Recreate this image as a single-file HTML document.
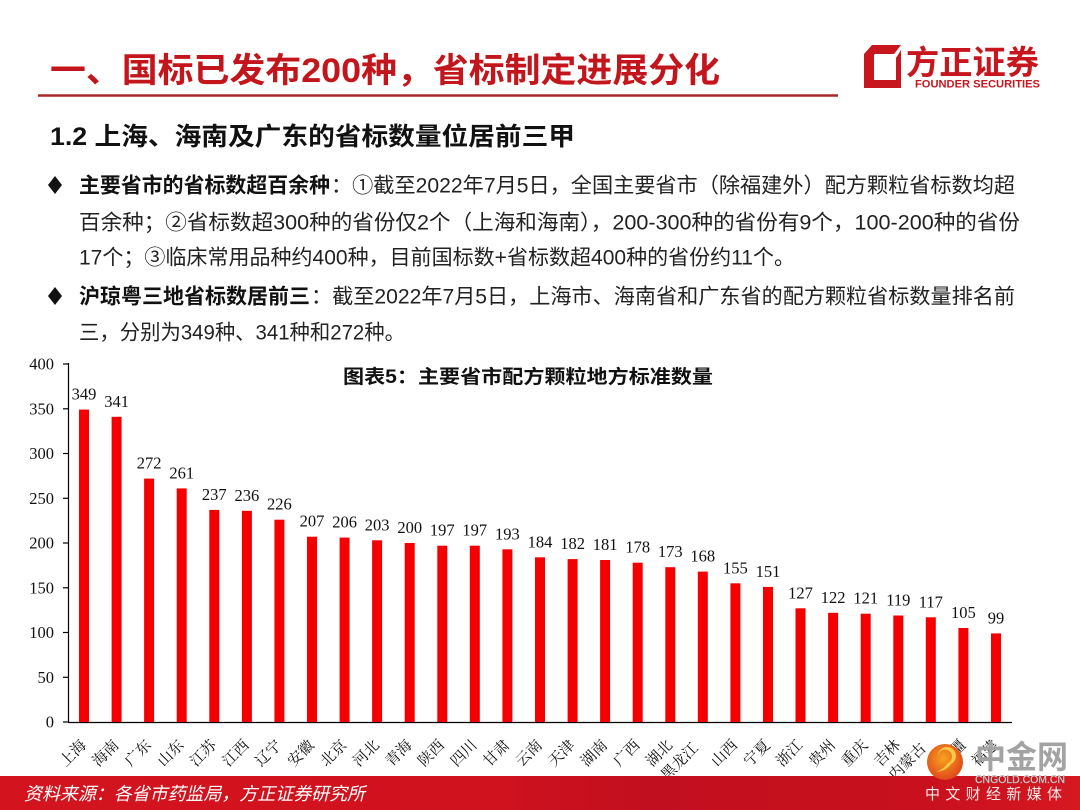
<!DOCTYPE html>
<html><head><meta charset="utf-8">
<style>
html,body{margin:0;padding:0;background:#fff;}
svg{display:block;}
.cjk{font-family:"Liberation Sans","Noto Sans CJK SC",sans-serif;}
.ser{font-family:"Liberation Serif","Noto Serif CJK SC",serif;}
</style></head>
<body>
<svg width="1080" height="810" viewBox="0 0 1080 810" xmlns="http://www.w3.org/2000/svg">
<defs>
<linearGradient id="foot" x1="0" y1="0" x2="1" y2="0">
<stop offset="0" stop-color="#d3141f"/>
<stop offset="0.45" stop-color="#d0121e"/>
<stop offset="0.6" stop-color="#c20f1f"/>
<stop offset="0.85" stop-color="#c8101e"/>
<stop offset="1" stop-color="#d61820"/>
</linearGradient>
<radialGradient id="wm" cx="0.45" cy="0.4" r="0.6">
<stop offset="0" stop-color="#f7a21f"/>
<stop offset="1" stop-color="#e0481a"/>
</radialGradient>
</defs>

<!-- Header -->
<text class="cjk" x="50" y="82" font-size="34" font-weight="bold" fill="#c3161c" textLength="670" lengthAdjust="spacingAndGlyphs">一、国标已发布200种，省标制定进展分化</text>
<line x1="38" y1="95.5" x2="838" y2="95.5" stroke="#a8282c" stroke-width="2.5"/>

<!-- Logo -->
<path d="M872 45 L901 45 L894 54 L875 54 L872 57 Z" fill="#c8161e"/>
<path d="M864 54 L874 54 L874 80 L896 80 L896 58 L901 50 L901 88 L864 88 Z" fill="#c8161e"/>
<path d="M864 54 L872 45 L872 57 L866 64 Z" fill="#c8161e"/>
<text class="cjk" x="906" y="74" font-size="33" font-weight="bold" fill="#c8161e" textLength="133" lengthAdjust="spacingAndGlyphs">方正证券</text>
<text x="915" y="87.5" font-family="Liberation Sans, sans-serif" font-size="11" font-weight="bold" fill="#c8161e" textLength="125" lengthAdjust="spacingAndGlyphs">FOUNDER SECURITIES</text>

<!-- Subtitle -->
<text class="cjk" x="50" y="145" font-size="25" font-weight="bold" fill="#111" textLength="525" lengthAdjust="spacingAndGlyphs">1.2 上海、海南及广东的省标数量位居前三甲</text>

<!-- Bullets -->
<path d="M55 176 L62 185 L55 194 L48 185 Z" fill="#111"/>
<text class="cjk" x="79" y="192.5" font-size="21" font-weight="bold" fill="#111" textLength="251" lengthAdjust="spacingAndGlyphs">主要省市的省标数超百余种</text>
<text class="cjk" x="331" y="192.5" font-size="21" fill="#222" textLength="684" lengthAdjust="spacingAndGlyphs">：①截至2022年7月5日，全国主要省市（除福建外）配方颗粒省标数均超</text>
<text class="cjk" x="79" y="229.5" font-size="21" fill="#222" textLength="941" lengthAdjust="spacingAndGlyphs">百余种；②省标数超300种的省份仅2个（上海和海南），200-300种的省份有9个，100-200种的省份</text>
<text class="cjk" x="79" y="264.5" font-size="21" fill="#222" textLength="716" lengthAdjust="spacingAndGlyphs">17个；③临床常用品种约400种，目前国标数+省标数超400种的省份约11个。</text>
<path d="M55 287 L62 296 L55 305 L48 296 Z" fill="#111"/>
<text class="cjk" x="79" y="303.5" font-size="21" font-weight="bold" fill="#111" textLength="231" lengthAdjust="spacingAndGlyphs">沪琼粤三地省标数居前三</text>
<text class="cjk" x="311" y="303.5" font-size="21" fill="#222" textLength="704" lengthAdjust="spacingAndGlyphs">：截至2022年7月5日，上海市、海南省和广东省的配方颗粒省标数量排名前</text>
<text class="cjk" x="79" y="339.5" font-size="21" fill="#222" textLength="326" lengthAdjust="spacingAndGlyphs">三，分别为349种、341种和272种。</text>

<!-- Chart title -->
<text class="cjk" x="343" y="383" font-size="19" font-weight="bold" fill="#111" textLength="370" lengthAdjust="spacingAndGlyphs">图表5：主要省市配方颗粒地方标准数量</text>

<!-- Axes -->
<g stroke="#000" stroke-width="1.2">
<line x1="68.5" y1="363" x2="68.5" y2="722.5"/>
<line x1="68" y1="722.5" x2="1012" y2="722.5"/>
<line x1="63" y1="364" x2="68.5" y2="364"/>
<line x1="63" y1="408.8" x2="68.5" y2="408.8"/>
<line x1="63" y1="453.5" x2="68.5" y2="453.5"/>
<line x1="63" y1="498.3" x2="68.5" y2="498.3"/>
<line x1="63" y1="543" x2="68.5" y2="543"/>
<line x1="63" y1="587.8" x2="68.5" y2="587.8"/>
<line x1="63" y1="632.5" x2="68.5" y2="632.5"/>
<line x1="63" y1="677.3" x2="68.5" y2="677.3"/>
<line x1="63" y1="722" x2="68.5" y2="722"/>
</g>
<g class="ser" font-size="16.5" fill="#111" text-anchor="end">
<text x="54" y="369.5">400</text>
<text x="54" y="414.3">350</text>
<text x="54" y="459">300</text>
<text x="54" y="503.8">250</text>
<text x="54" y="548.5">200</text>
<text x="54" y="593.3">150</text>
<text x="54" y="638">100</text>
<text x="54" y="682.8">50</text>
<text x="54" y="727.5">0</text>
</g>

<!-- Bars -->
<g fill="#f50000">
<rect x="79" y="409.6" width="10" height="312.4"/>
<rect x="111.6" y="416.8" width="10" height="305.2"/>
<rect x="144.1" y="478.6" width="10" height="243.4"/>
<rect x="176.7" y="488.4" width="10" height="233.6"/>
<rect x="209.3" y="509.9" width="10" height="212.1"/>
<rect x="241.9" y="510.8" width="10" height="211.2"/>
<rect x="274.4" y="519.7" width="10" height="202.3"/>
<rect x="307" y="536.7" width="10" height="185.3"/>
<rect x="339.6" y="537.6" width="10" height="184.4"/>
<rect x="372.1" y="540.3" width="10" height="181.7"/>
<rect x="404.7" y="543" width="10" height="179"/>
<rect x="437.3" y="545.7" width="10" height="176.3"/>
<rect x="469.8" y="545.7" width="10" height="176.3"/>
<rect x="502.4" y="549.3" width="10" height="172.7"/>
<rect x="535" y="557.3" width="10" height="164.7"/>
<rect x="567.6" y="559.1" width="10" height="162.9"/>
<rect x="600.1" y="560" width="10" height="162"/>
<rect x="632.7" y="562.7" width="10" height="159.3"/>
<rect x="665.3" y="567.2" width="10" height="154.8"/>
<rect x="697.8" y="571.6" width="10" height="150.4"/>
<rect x="730.4" y="583.3" width="10" height="138.7"/>
<rect x="763" y="586.9" width="10" height="135.1"/>
<rect x="795.5" y="608.3" width="10" height="113.7"/>
<rect x="828.1" y="612.8" width="10" height="109.2"/>
<rect x="860.7" y="613.7" width="10" height="108.3"/>
<rect x="893.3" y="615.5" width="10" height="106.5"/>
<rect x="925.8" y="617.3" width="10" height="104.7"/>
<rect x="958.4" y="628" width="10" height="94"/>
<rect x="991" y="633.4" width="10" height="88.6"/>
</g>

<!-- Value labels -->
<g class="ser" font-size="16.5" fill="#111" text-anchor="middle">
<text x="84" y="399.6">349</text>
<text x="116.6" y="406.8">341</text>
<text x="149.1" y="468.6">272</text>
<text x="181.7" y="478.4">261</text>
<text x="214.3" y="499.9">237</text>
<text x="246.9" y="500.8">236</text>
<text x="279.4" y="509.7">226</text>
<text x="312" y="526.7">207</text>
<text x="344.6" y="527.6">206</text>
<text x="377.1" y="530.3">203</text>
<text x="409.7" y="533">200</text>
<text x="442.3" y="535.7">197</text>
<text x="474.8" y="535.7">197</text>
<text x="507.4" y="539.3">193</text>
<text x="540" y="547.3">184</text>
<text x="572.6" y="549.1">182</text>
<text x="605.1" y="550">181</text>
<text x="637.7" y="552.7">178</text>
<text x="670.3" y="557.2">173</text>
<text x="702.8" y="561.6">168</text>
<text x="735.4" y="573.3">155</text>
<text x="768" y="576.9">151</text>
<text x="800.5" y="598.3">127</text>
<text x="833.1" y="602.8">122</text>
<text x="865.7" y="603.7">121</text>
<text x="898.3" y="605.5">119</text>
<text x="930.8" y="607.3">117</text>
<text x="963.4" y="618">105</text>
<text x="996" y="623.4">99</text>
</g>

<!-- Category labels -->
<g font-family="'Liberation Serif','Noto Serif CJK SC',serif" font-size="15" fill="#111" text-anchor="end">
<text transform="translate(87,746) rotate(-45)">上海</text>
<text transform="translate(119.6,746) rotate(-45)">海南</text>
<text transform="translate(152.1,746) rotate(-45)">广东</text>
<text transform="translate(184.7,746) rotate(-45)">山东</text>
<text transform="translate(217.3,746) rotate(-45)">江苏</text>
<text transform="translate(249.9,746) rotate(-45)">江西</text>
<text transform="translate(282.4,746) rotate(-45)">辽宁</text>
<text transform="translate(315,746) rotate(-45)">安徽</text>
<text transform="translate(347.6,746) rotate(-45)">北京</text>
<text transform="translate(380.1,746) rotate(-45)">河北</text>
<text transform="translate(412.7,746) rotate(-45)">青海</text>
<text transform="translate(445.3,746) rotate(-45)">陕西</text>
<text transform="translate(477.8,746) rotate(-45)">四川</text>
<text transform="translate(510.4,746) rotate(-45)">甘肃</text>
<text transform="translate(543,746) rotate(-45)">云南</text>
<text transform="translate(575.6,746) rotate(-45)">天津</text>
<text transform="translate(608.1,746) rotate(-45)">湖南</text>
<text transform="translate(640.7,746) rotate(-45)">广西</text>
<text transform="translate(673.3,746) rotate(-45)">湖北</text>
<text transform="translate(699,749) rotate(-45)">黑龙江</text>
<text transform="translate(738.4,746) rotate(-45)">山西</text>
<text transform="translate(771,746) rotate(-45)">宁夏</text>
<text transform="translate(803.5,746) rotate(-45)">浙江</text>
<text transform="translate(836.1,746) rotate(-45)">贵州</text>
<text transform="translate(868.7,746) rotate(-45)">重庆</text>
<text transform="translate(901.3,746) rotate(-45)">吉林</text>
<text transform="translate(927,749) rotate(-45)">内蒙古</text>
<text transform="translate(966.4,746) rotate(-45)">新疆</text>
<text transform="translate(999,746) rotate(-45)">福建</text>
</g>

<!-- Footer -->
<rect x="0" y="776" width="1080" height="34" fill="url(#foot)"/>
<text class="cjk" x="24" y="800" font-size="18" font-style="italic" fill="#fff" textLength="341" lengthAdjust="spacingAndGlyphs">资料来源：各省市药监局，方正证券研究所</text>

<!-- Watermark -->
<circle cx="945" cy="762" r="18" fill="url(#wm)"/>
<path d="M938 757 a7 7 0 1 1 10 6 q-4 6 -12 9 q10 -1 15 -8 a9 9 0 1 0 -13 -7 Z" fill="#fbd24a" opacity="0.9"/>
<text class="cjk" x="975" y="768" font-size="32" font-weight="bold" fill="#a3a3a3" textLength="93" lengthAdjust="spacingAndGlyphs">中金网</text>
<text x="975" y="783" font-family="Liberation Sans, sans-serif" font-size="11" fill="#f0f0f0" stroke="#999" stroke-width="0.4" textLength="90" lengthAdjust="spacingAndGlyphs">CNGOLD.COM.CN</text>
<text class="cjk" x="925" y="799" font-size="15" fill="#f8e6e6" textLength="137" lengthAdjust="spacing">中文财经新媒体</text>
</svg>
</body></html>
